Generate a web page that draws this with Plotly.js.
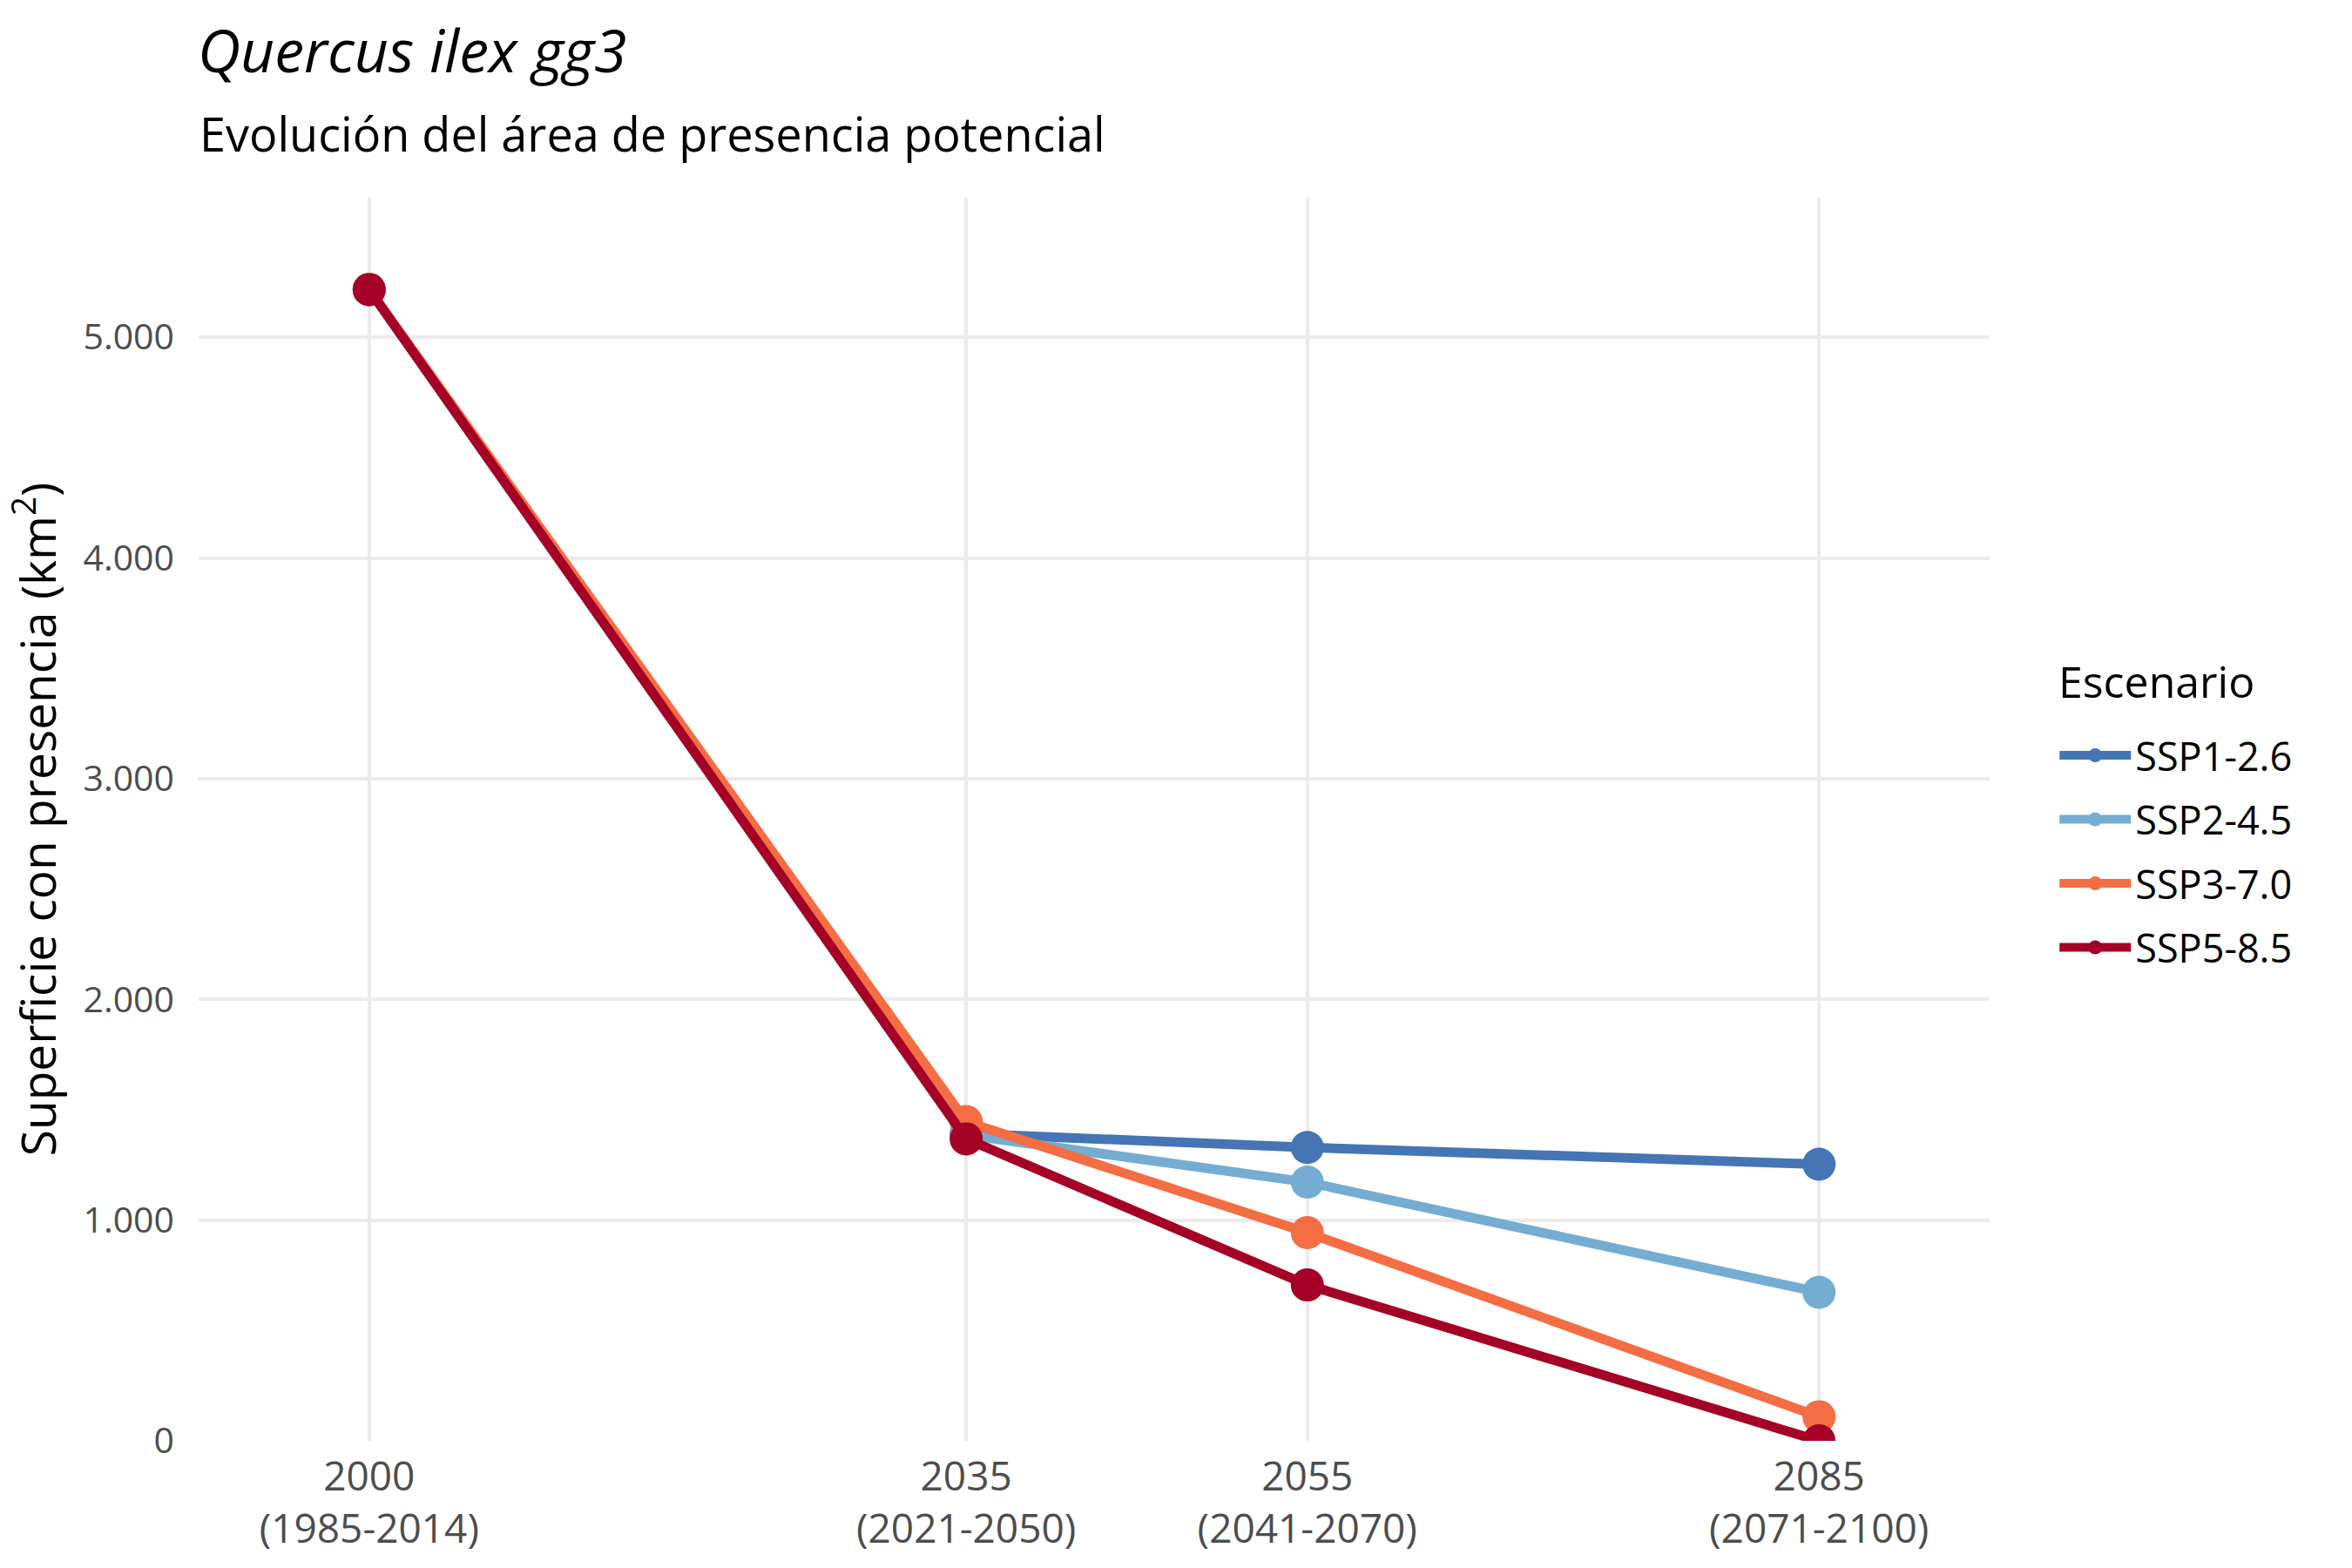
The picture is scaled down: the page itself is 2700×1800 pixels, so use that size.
<!DOCTYPE html>
<html>
<head>
<meta charset="utf-8">
<script src="https://cdn.plot.ly/plotly-3.0.1.min.js"></script>
<style>html,body{margin:0;padding:0;background:#fff;}#chart{width:2700px;height:1800px;}</style>
</head>
<body>
<div id="chart"></div>
<script>
// Data
const years = [2000, 2035, 2055, 2085];
const periodLabels = ["2000<br>(1985-2014)", "2035<br>(2021-2050)", "2055<br>(2041-2070)", "2085<br>(2071-2100)"];
const scenarios = ["SSP1-2.6", "SSP2-4.5", "SSP3-7.0", "SSP5-8.5"];
const ssp126 = [5216, 1392, 1329, 1253];
const ssp245 = [5216, 1386, 1172, 673];
const ssp370 = [5216, 1446, 943, 109];
const ssp585 = [5216, 1368, 706, 0];
const colors = ["#4575B4", "#74ADD1", "#F46D43", "#A50026"];
const yTicks = [0, 1000, 2000, 3000, 4000, 5000];

const seriesValues = [ssp126, ssp245, ssp370, ssp585];
const FONT = "Open Sans, Noto Sans, sans-serif";

const traces = scenarios.map((name, i) => ({
  type: "scatter",
  mode: "lines+markers",
  name: name,
  legendgroup: name,
  x: years,
  y: seriesValues[i],
  line: {color: colors[i], width: 11},
  marker: {color: colors[i], size: 38},
  hoverinfo: "x+y+name"
}));

const layout = {
  width: 2700,
  height: 1800,
  paper_bgcolor: "#ffffff",
  plot_bgcolor: "#ffffff",
  separators: ",.",
  font: {family: FONT, color: "#000000"},
  margin: {l: 228, r: 416, t: 227, b: 146, pad: 0},
  title: {
    text: "Quercus ilex gg3",
    font: {family: FONT, size: 68, style: "italic", color: "#000000"},
    xref: "container", x: 227 / 2700, xanchor: "left",
    yref: "container", y: 1 - 83 / 1800, yanchor: "bottom"
  },
  annotations: [{
    text: "Evolución del área de presencia potencial",
    xref: "paper", yref: "paper",
    x: (227 - 228) / 2056, y: 1 + (227 - 153) / 1427,
    xanchor: "left", yanchor: "middle",
    showarrow: false,
    font: {family: FONT, size: 54, color: "#000000"}
  }, {
    text: "Escenario",
    xref: "paper", yref: "paper",
    x: (2361 - 228) / 2056, y: (1654 - 782) / 1427,
    xanchor: "left", yanchor: "middle",
    showarrow: false,
    font: {family: FONT, size: 50, color: "#000000"}
  }],
  xaxis: {
    range: [1990, 2095],
    tickmode: "array",
    tickvals: years,
    ticktext: periodLabels,
    showgrid: true,
    gridcolor: "#EBEBEB",
    gridwidth: 4,
    zeroline: false,
    showline: false,
    ticks: "",
    ticklabelstandoff: 10,
    tickfont: {family: FONT, size: 46, color: "#4D4D4D"},
    automargin: false,
    fixedrange: true
  },
  yaxis: {
    range: [0, 5632],
    tickmode: "array",
    tickvals: yTicks,
    tickformat: ",d",
    showgrid: true,
    gridcolor: "#EBEBEB",
    gridwidth: 4,
    zeroline: false,
    showline: false,
    ticks: "",
    ticklabelstandoff: 27,
    tickfont: {family: FONT, size: 41, color: "#4D4D4D"},
    title: {
      text: "Superficie con presencia (km<sup>2</sup>)",
      font: {family: FONT, size: 55, color: "#000000"},
      standoff: 20
    },
    automargin: false,
    fixedrange: true
  },
  showlegend: true,
  legend: {
    font: {family: FONT, size: 45, color: "#000000"},
    x: 1.0366, xanchor: "left",
    y: 0.5765, yanchor: "top",
    tracegroupgap: 12,
    traceorder: "grouped",
    itemwidth: 82,
    bgcolor: "rgba(0,0,0,0)",
    borderwidth: 0
  },
  hovermode: "closest"
};

Plotly.newPlot("chart", traces, layout, {displayModeBar: false, responsive: false});
</script>
</body>
</html>
